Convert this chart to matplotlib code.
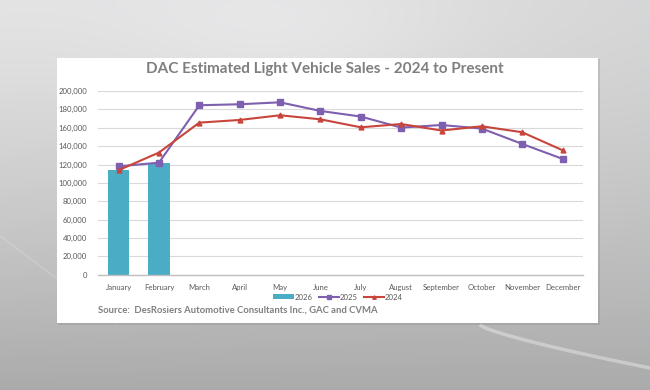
import numpy as np
import matplotlib
matplotlib.use("Agg")
import matplotlib.pyplot as plt
from matplotlib.patches import Rectangle
from matplotlib.lines import Line2D
from matplotlib.patches import Patch
from matplotlib.ticker import FuncFormatter

months = ["January", "February", "March", "April", "May", "June", "July",
          "August", "September", "October", "November", "December"]
sales_2026 = [114500, 121700]
sales_2025 = [118000, 122000, 184500, 185600, 187700, 178300,
              172200, 160200, 163000, 159100, 142400, 126100]
sales_2024 = [113800, 133000, 165600, 168500, 173600, 169200,
              160500, 164100, 157000, 161600, 155100, 135500]

c_bar = "#4BACC6"
c_2025 = "#7F5FAF"
c_2024 = "#C8453C"
grey_txt = "#595959"

plt.rcParams["font.family"] = ["Lato", "DejaVu Sans"]

fig = plt.figure(figsize=(6.5, 3.9), dpi=100)

# grey gradient backdrop
bg = fig.add_axes([0, 0, 1, 1], zorder=-3)
yy, xx = np.mgrid[0:1:200j, 0:1:300j]
shade = 0.89 - 0.22 * yy ** 1.3 - 0.05 * xx * (1 - yy)
shade += 0.04 * np.exp(-((xx - 0.45) ** 2 / 0.08 + (yy - 0.1) ** 2 / 0.05))
bg.imshow(np.dstack([shade, shade, shade + 0.005]).clip(0, 1),
          extent=[0, 1, 0, 1], aspect="auto", origin="upper")
t = np.linspace(0, 1, 100)
bg.plot(0.74 + 0.28 * t, 0.165 - 0.115 * t ** 0.8, color="white", lw=2.5, alpha=0.35)
bg.plot(-0.02 + 0.2 * t, 0.42 - 0.25 * t, color="white", lw=1.2, alpha=0.15)
bg.set_xlim(0, 1)
bg.set_ylim(0, 1)
bg.axis("off")

# white chart panel with soft shadow
fig.patches.append(Rectangle((0.0895, 0.166), 0.834, 0.683, transform=fig.transFigure,
                             facecolor="#808080", alpha=0.25, zorder=-2, lw=0))
fig.patches.append(Rectangle((0.0877, 0.172), 0.832, 0.679, transform=fig.transFigure,
                             facecolor="white", zorder=-1, lw=0))

ax = fig.add_axes([0.1514, 0.2956, 0.7452, 0.4710])
ax.set_facecolor("none")
x = np.arange(len(months))

ax.bar(x[:len(sales_2026)], sales_2026, width=0.53, color=c_bar, zorder=2)
ax.plot(x, sales_2025, color=c_2025, lw=1.5, marker="s", markersize=4, zorder=3)
ax.plot(x, sales_2024, color=c_2024, lw=1.5, marker="^", markersize=3.5, zorder=4)

ax.set_xlim(-0.5, 11.5)
ax.set_ylim(0, 200000)
ax.set_yticks(np.arange(0, 200001, 20000))
ax.yaxis.set_major_formatter(FuncFormatter(lambda v, p: f"{int(v):,}"))
ax.set_xticks(x)
ax.set_xticklabels(months)
ax.grid(axis="y", color="#d9d9d9", lw=0.8, zorder=0)
for s in ["top", "right", "left"]:
    ax.spines[s].set_visible(False)
ax.spines["bottom"].set_color("#bfbfbf")
ax.spines["bottom"].set_linewidth(1.0)
ax.tick_params(axis="both", length=0, labelsize=5.6, colors=grey_txt)
ax.tick_params(axis="x", pad=7)
ax.tick_params(axis="y", pad=8)

fig.text(0.5, 0.823, "DAC Estimated Light Vehicle Sales - 2024 to Present",
         ha="center", va="center", fontsize=11, fontweight="bold", color="#7f7f7f")

handles = [Patch(facecolor=c_bar, label="2026"),
           Line2D([], [], color=c_2025, lw=1.5, marker="s", markersize=2.5, label="2025"),
           Line2D([], [], color=c_2024, lw=1.5, marker="^", markersize=2.5, label="2024")]
fig.legend(handles=handles, loc="center", bbox_to_anchor=(0.52, 0.238), ncol=3,
           frameon=False, fontsize=5.6, labelcolor=grey_txt, handlelength=2.6,
           handleheight=0.6, handletextpad=0.1, columnspacing=0.8)

fig.text(0.151, 0.206, "Source:  DesRosiers Automotive Consultants Inc., GAC and CVMA",
         ha="left", va="center", fontsize=6.8, fontweight="bold", color="#7f7f7f")

fig.savefig("out.png", dpi=100)
